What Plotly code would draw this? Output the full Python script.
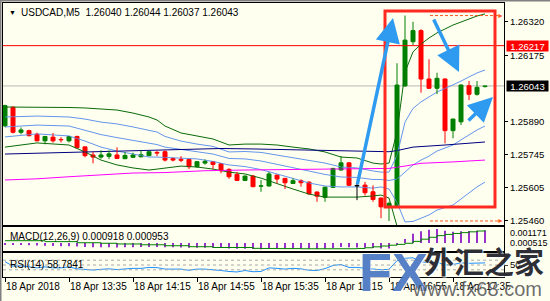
import plotly.graph_objects as go

# ---------------- data ----------------
tick_idx = [0, 8, 16, 24, 32, 40, 48, 56]
tick_text = ["18 Apr 2018", "18 Apr 13:35", "18 Apr 14:15", "18 Apr 14:55",
             "18 Apr 15:35", "18 Apr 16:15", "18 Apr 16:55", "18 Apr 17:35"]

opens = [1.25871, 1.25951, 1.25843, 1.25850, 1.25834, 1.25806, 1.25822, 1.25812, 1.25806, 1.25825,
         1.25780, 1.25745, 1.25736, 1.25739, 1.25745, 1.25729, 1.25735, 1.25737, 1.25742, 1.25756,
         1.25759, 1.25730, 1.25726, 1.25726, 1.25694, 1.25710, 1.25716, 1.25707, 1.25683, 1.25661,
         1.25635, 1.25654, 1.25610, 1.25611, 1.25658, 1.25644, 1.25622, 1.25634, 1.25628, 1.25585,
         1.25562, 1.25605, 1.25680, 1.25711, 1.25612, 1.25615, 1.25586, 1.25559, 1.25521, 1.25524,
         1.26043, 1.26234, 1.26282, 1.26073, 1.26033, 1.26073, 1.25850, 1.25888, 1.26044, 1.26007,
         1.26040]
highs = [1.25962, 1.25955, 1.25864, 1.25854, 1.25841, 1.25827, 1.25840, 1.25822, 1.25827, 1.25828,
         1.25782, 1.25759, 1.25765, 1.25765, 1.25778, 1.25758, 1.25755, 1.25765, 1.25761, 1.25763,
         1.25765, 1.25733, 1.25740, 1.25728, 1.25718, 1.25726, 1.25718, 1.25709, 1.25687, 1.25672,
         1.25656, 1.25658, 1.25637, 1.25672, 1.25660, 1.25646, 1.25644, 1.25640, 1.25630, 1.25587,
         1.25608, 1.25689, 1.25740, 1.25713, 1.25620, 1.25629, 1.25614, 1.25561, 1.25543, 1.26141,
         1.26347, 1.26320, 1.26288, 1.26158, 1.26100, 1.26076, 1.25902, 1.26050, 1.26064, 1.26064,
         1.26044]
lows = [1.25865, 1.25838, 1.25834, 1.25826, 1.25804, 1.25791, 1.25798, 1.25799, 1.25799, 1.25774,
        1.25735, 1.25709, 1.25729, 1.25727, 1.25728, 1.25727, 1.25733, 1.25735, 1.25740, 1.25740,
        1.25717, 1.25717, 1.25714, 1.25684, 1.25690, 1.25703, 1.25684, 1.25666, 1.25642, 1.25633,
        1.25633, 1.25606, 1.25586, 1.25609, 1.25622, 1.25598, 1.25620, 1.25608, 1.25575, 1.25543,
        1.25543, 1.25603, 1.25678, 1.25612, 1.25550, 1.25570, 1.25543, 1.25472, 1.25460, 1.25520,
        1.26040, 1.26220, 1.26014, 1.26030, 1.26008, 1.25795, 1.25817, 1.25874, 1.25982, 1.26001,
        1.26037]
closes = [1.25958, 1.25843, 1.25853, 1.25828, 1.25806, 1.25825, 1.25806, 1.25810, 1.25825, 1.25776,
          1.25742, 1.25736, 1.25745, 1.25750, 1.25730, 1.25743, 1.25745, 1.25746, 1.25759, 1.25753,
          1.25723, 1.25723, 1.25722, 1.25694, 1.25716, 1.25717, 1.25704, 1.25677, 1.25651, 1.25635,
          1.25654, 1.25608, 1.25612, 1.25663, 1.25641, 1.25625, 1.25634, 1.25625, 1.25577, 1.25567,
          1.25606, 1.25687, 1.25711, 1.25614, 1.25612, 1.25582, 1.25553, 1.25521, 1.25536, 1.26047,
          1.26241, 1.26282, 1.26073, 1.26033, 1.26076, 1.25850, 1.25900, 1.26047, 1.26007, 1.26037,
          1.26043]

bb_idx = [0, 4, 8, 10, 12, 14, 16, 18, 19, 20, 22, 24, 26, 28, 30, 32, 34, 36, 38, 40, 42, 44,
          46, 47, 48, 49, 50, 51, 52, 53, 54, 55, 56, 57, 58, 59, 60]
bb_upper2 = [1.25952, 1.25952, 1.25950, 1.25948, 1.25943, 1.25939, 1.25926, 1.25909, 1.25896, 1.25870,
             1.25840, 1.25827, 1.25814, 1.25788, 1.25792, 1.25792, 1.25788, 1.25779, 1.25771, 1.25758,
             1.25736, 1.25732, 1.25710, 1.25706, 1.25710, 1.25844, 1.26103, 1.26190, 1.26224, 1.26250,
             1.26272, 1.26289, 1.26306, 1.26319, 1.26332, 1.26345, 1.26354]
bb_lower2 = [1.25779, 1.25797, 1.25788, 1.25758, 1.25723, 1.25702, 1.25689, 1.25680, 1.25684, 1.25689,
             1.25697, 1.25693, 1.25684, 1.25671, 1.25663, 1.25645, 1.25620, 1.25598, 1.25576, 1.25563,
             1.25563, 1.25563, 1.25568, 1.25572, 1.25559, 1.25438, 1.25240, 1.25214, 1.25222, 1.25231,
             1.25253, 1.25270, 1.25270, 1.25300, 1.25330, 1.25360, 1.25386]
bb_upper1 = [1.25909, 1.25913, 1.25909, 1.25900, 1.25887, 1.25879, 1.25866, 1.25853, 1.25844, 1.25825,
             1.25805, 1.25792, 1.25782, 1.25758, 1.25760, 1.25756, 1.25745, 1.25734, 1.25723, 1.25710,
             1.25693, 1.25689, 1.25676, 1.25671, 1.25671, 1.25743, 1.25887, 1.25946, 1.25974, 1.25995,
             1.26017, 1.26032, 1.26047, 1.26064, 1.26082, 1.26099, 1.26112]
bb_mid = [1.25866, 1.25874, 1.25870, 1.25853, 1.25833, 1.25820, 1.25807, 1.25794, 1.25790, 1.25779,
          1.25769, 1.25760, 1.25749, 1.25730, 1.25728, 1.25719, 1.25704, 1.25689, 1.25674, 1.25661,
          1.25650, 1.25648, 1.25639, 1.25639, 1.25635, 1.25641, 1.25671, 1.25702, 1.25723, 1.25740,
          1.25762, 1.25775, 1.25788, 1.25810, 1.25831, 1.25853, 1.25870]
bb_lower1 = [1.25823, 1.25836, 1.25827, 1.25805, 1.25779, 1.25762, 1.25749, 1.25736, 1.25736, 1.25734,
             1.25732, 1.25728, 1.25717, 1.25702, 1.25695, 1.25682, 1.25663, 1.25643, 1.25624, 1.25611,
             1.25607, 1.25607, 1.25602, 1.25607, 1.25598, 1.25540, 1.25456, 1.25458, 1.25473, 1.25486,
             1.25507, 1.25518, 1.25529, 1.25555, 1.25581, 1.25607, 1.25628]

ma_navy_idx = [0, 7, 15, 20, 27, 31, 37, 44, 48, 49, 51, 55, 60]
ma_navy = [1.25749, 1.25756, 1.25762, 1.25766, 1.25773, 1.25771, 1.25766, 1.25762, 1.25759, 1.25764,
           1.25779, 1.25788, 1.25801]
ma_mag_idx = [0, 4, 8, 12, 16, 20, 25, 30, 35, 40, 45, 48, 50, 52, 56, 60]
ma_mag = [1.25637, 1.25642, 1.25651, 1.25658, 1.25667, 1.25669, 1.25677, 1.25680, 1.25682, 1.25684,
          1.25686, 1.25687, 1.25697, 1.25709, 1.25715, 1.25723]

macd_main = [-0.00010, -0.00012, -0.00014, -0.00016, -0.00019, -0.00020, -0.00022, -0.00023, -0.00023, -0.00026,
             -0.00029, -0.00031, -0.00032, -0.00032, -0.00033, -0.00032, -0.00031, -0.00030, -0.00029, -0.00029,
             -0.00031, -0.00032, -0.00033, -0.00035, -0.00035, -0.00034, -0.00035, -0.00037, -0.00040, -0.00042,
             -0.00042, -0.00044, -0.00045, -0.00042, -0.00041, -0.00041, -0.00040, -0.00040, -0.00042, -0.00044,
             -0.00042, -0.00036, -0.00030, -0.00032, -0.00033, -0.00035, -0.00037, -0.00040, -0.00041, -0.00010,
             0.00030, 0.00068, 0.00086, 0.00097, 0.00102, 0.00090, 0.00082, 0.00086, 0.00088, 0.00090,
             0.000918]
macd_signal = [0.00017, 0.00017, 0.00017, 0.00017, 0.00017, 0.00010, 0.00010, 0.00010, 0.00010, 0.00002,
               0.00002, 0.00002, -0.00002, -0.00002, -0.00007, -0.00007, -0.00007, -0.00013, -0.00013, -0.00013,
               -0.00020, -0.00020, -0.00020, -0.00027, -0.00027, -0.00027, -0.00033, -0.00033, -0.00033, -0.00033,
               -0.00033, -0.00039, -0.00040, -0.00040, -0.00041, -0.00041, -0.00041, -0.00042, -0.00042, -0.00042,
               -0.00042, -0.00042, -0.00042, -0.00042, -0.00040, -0.00035, -0.00028, -0.00022, -0.00016, -0.00010,
               -0.00002, 0.00012, 0.00028, 0.00042, 0.00054, 0.00063, 0.00070, 0.00076, 0.00082, 0.00088,
               0.000953]
rsi = [64, 45, 47, 42, 38, 42, 38, 38, 42, 34, 30, 29, 32, 34, 31, 35, 36, 36, 40, 39,
       33, 33, 33, 28, 33, 33, 31, 27, 23, 21, 27, 22, 23, 38, 36, 33, 36, 34, 28, 27,
       35, 48, 52, 40, 40, 36, 33, 30, 32, 68, 78, 80, 63, 60, 62, 50, 52, 59, 57, 58.5,
       58.7841]
rsi_levels = [70, 50, 30]

price_ticks = [1.26320, 1.26175, 1.25890, 1.25745, 1.25605, 1.25460]
hline_price = 1.26217
bid_price = 1.26043
macd_labels = ["0.001171", "0.000515"]

# ---------------- geometry helpers ----------------
W, H = 550, 301
L, R, T, B = 3, 504, 3, 277


def PX(px):
    return (px - L) / (R - L)


def PY(py):
    return (B - py) / (B - T)


FONT = "Tahoma, 'Liberation Sans', Arial, sans-serif"
BG = "#FFFFF0"
GREEN = "#008000"
RED = "#FF0000"

n = len(closes)
idx = list(range(n))
colors = [GREEN if c > o else (RED if c < o else "#000000") for o, c in zip(opens, closes)]

fig = go.Figure()

# indicator lines on main chart
line_specs = [
    (bb_idx, bb_upper2, "#0A6A0A"), (bb_idx, bb_lower2, "#0A6A0A"),
    (bb_idx, bb_upper1, "#6495ED"), (bb_idx, bb_mid, "#6495ED"), (bb_idx, bb_lower1, "#6495ED"),
    (ma_navy_idx, ma_navy, "#000080"), (ma_mag_idx, ma_mag, "#FF00FF"),
]
for xs, ys, col in line_specs:
    fig.add_trace(go.Scatter(x=xs, y=ys, mode="lines", line=dict(color=col, width=1),
                             hoverinfo="skip", xaxis="x", yaxis="y"))

# horizontal price lines
fig.add_shape(type="line", xref="x domain", x0=0, x1=1, yref="y", y0=bid_price, y1=bid_price,
              line=dict(color="#B8B8B8", width=1), layer="below")
fig.add_shape(type="line", xref="x domain", x0=0, x1=1, yref="y", y0=hline_price, y1=hline_price,
              line=dict(color="#FF0000", width=1))

# candle wicks
for col in [GREEN, RED, "#000000"]:
    wx, wy = [], []
    for i in idx:
        if colors[i] != col:
            continue
        wx += [i, i, None]
        wy += [lows[i], highs[i], None]
        if abs(closes[i] - opens[i]) < 0.000005:
            wx += [i - 0.3, i + 0.3, None]
            wy += [opens[i], opens[i], None]
    fig.add_trace(go.Scatter(x=wx, y=wy, mode="lines", line=dict(color=col, width=1),
                             hoverinfo="skip", xaxis="x", yaxis="y"))

# candle bodies
fig.add_trace(go.Bar(
    x=idx, base=[min(o, c) for o, c in zip(opens, closes)],
    y=[abs(c - o) for o, c in zip(opens, closes)],
    width=0.5, marker=dict(color=colors, line=dict(color=colors, width=1)),
    hoverinfo="skip", xaxis="x", yaxis="y"))

# MACD
fig.add_trace(go.Bar(x=idx, y=macd_main, width=0.22, marker=dict(color="#9932CC", line=dict(width=0)),
                     hoverinfo="skip", xaxis="x2", yaxis="y2"))
fig.add_trace(go.Scatter(x=idx, y=macd_signal, mode="lines", line=dict(color="#008000", width=1, shape="hv"),
                         hoverinfo="skip", xaxis="x2", yaxis="y2"))

# RSI
fig.add_trace(go.Scatter(x=idx, y=rsi, mode="lines", line=dict(color="#1E90FF", width=1),
                         hoverinfo="skip", xaxis="x3", yaxis="y3"))
for lv in rsi_levels:
    fig.add_shape(type="line", xref="x3 domain", x0=0, x1=1, yref="y3", y0=lv, y1=lv,
                  line=dict(color="#A8A8A8", width=1, dash="3px,3px"))

xr = [-0.25, -0.25 + (R - L) / 8.0]
p_top = 1.26320 + (21.8 - T) / 23160
p_bot = 1.26320 - (225 - 21.8) / 23160

axis_common = dict(showline=True, mirror=True, linecolor="#000000", linewidth=1,
                   showgrid=False, zeroline=False, automargin=False)

fig.update_layout(
    width=W, height=H, autosize=False,
    margin=dict(l=L, r=W - R, t=T, b=H - B, pad=0),
    paper_bgcolor=BG, plot_bgcolor=BG, showlegend=False, barmode="overlay",
    font=dict(family=FONT, size=10, color="#000000"),
    xaxis=dict(domain=[0, 1], range=xr, anchor="y", showticklabels=False, ticks="", **axis_common),
    xaxis2=dict(domain=[0, 1], range=xr, anchor="y2", matches="x", showticklabels=False, ticks="", **axis_common),
    xaxis3=dict(domain=[0, 1], range=xr, anchor="y3", matches="x", tickvals=tick_idx, ticktext=tick_text,
                ticks="outside", ticklen=4, tickcolor="#000000", ticklabelposition="outside right",
                tickangle=0, tickfont=dict(size=10, family=FONT), **axis_common),
    yaxis=dict(domain=[PY(225), 1], range=[p_bot, p_top], side="right", tickvals=price_ticks,
               ticktext=["%.5f" % v for v in price_ticks], ticks="outside", ticklen=3, tickcolor="#000000",
               tickangle=0, tickfont=dict(size=9.5, family=FONT), **axis_common),
    yaxis2=dict(domain=[PY(251), PY(227)], range=[-0.000586, 0.001173], side="right",
                showticklabels=False, ticks="", **axis_common),
    yaxis3=dict(domain=[0, PY(253)], range=[0, 100], side="right", tickvals=[50], ticktext=["50"],
                ticks="outside", ticklen=3, tickangle=0, tickfont=dict(size=9.5, family=FONT), **axis_common),
)

ann = []
# title and indicator labels
ann.append(dict(x=PX(12), y=PY(13), xref="paper", yref="paper", text="▼", showarrow=False,
                font=dict(size=7, color="#000000"), xanchor="center", yanchor="middle"))
ann.append(dict(x=PX(19), y=PY(13), xref="paper", yref="paper",
                text="USDCAD,M5\u00a0 %.5f %.5f %.5f %.5f" % (opens[-1], highs[-1], lows[-1], closes[-1]),
                showarrow=False, font=dict(size=10, color="#000000"), xanchor="left", yanchor="middle"))
ann.append(dict(x=PX(8), y=PY(236), xref="paper", yref="paper",
                text="MACD(12,26,9) %.6f %.6f" % (macd_main[-1], macd_signal[-1]),
                showarrow=False, font=dict(size=10), xanchor="left", yanchor="middle"))
ann.append(dict(x=PX(8), y=PY(264), xref="paper", yref="paper",
                text="RSI(14) %.4f" % rsi[-1], showarrow=False, font=dict(size=10),
                xanchor="left", yanchor="middle"))
# MACD scale labels
ann.append(dict(x=PX(508), y=PY(233), xref="paper", yref="paper", text=macd_labels[0], showarrow=False,
                font=dict(size=9), xanchor="left", yanchor="middle"))
ann.append(dict(x=PX(508), y=PY(243), xref="paper", yref="paper", text=macd_labels[1], showarrow=False,
                font=dict(size=9), xanchor="left", yanchor="middle"))
# price boxes
ann.append(dict(x=PX(506), y=hline_price, xref="paper", yref="y", text="%.5f" % hline_price, showarrow=False,
                font=dict(size=9.5, color="#FFFFFF"), bgcolor="#FF0000", xanchor="left", yanchor="middle",
                width=41, height=10, borderpad=0))
ann.append(dict(x=PX(506), y=bid_price, xref="paper", yref="y", text="%.5f" % bid_price, showarrow=False,
                font=dict(size=9.5, color="#FFFFFF"), bgcolor="#000000", xanchor="left", yanchor="middle",
                width=41, height=10, borderpad=0))

# high / low dashed markers
hi, lo = max(highs), min(lows)
for lvl in [hi, lo]:
    fig.add_shape(type="line", xref="paper", x0=PX(430), x1=PX(498), yref="y", y0=lvl, y1=lvl,
                  line=dict(color="#FF5A1E", width=1, dash="3px,2px"))
    ann.append(dict(x=PX(500), y=lvl, xref="paper", yref="y", text="►", showarrow=False,
                    font=dict(size=7, color="#FF5A1E"), xanchor="center", yanchor="middle"))

# red box drawn on the chart
fig.add_shape(type="rect", xref="paper", yref="paper", x0=PX(385), x1=PX(495), y0=PY(207), y1=PY(11),
              line=dict(color="#FF2A1F", width=3))

# blue arrows
arrow_col = "#2F9BF0"
for (hx, hy, tx, ty) in [(393, 18, 357, 186), (459, 72, 433, 18), (493, 97, 467, 122)]:
    ann.append(dict(x=PX(hx), y=PY(hy), xref="paper", yref="paper", ax=tx - hx, ay=ty - hy,
                    text="", showarrow=True, arrowhead=2, arrowsize=1.4, arrowwidth=3.5,
                    arrowcolor=arrow_col))

# watermark
ann.append(dict(x=PX(393), y=PY(272), xref="paper", yref="paper", text="<b>FX</b>", showarrow=False,
                font=dict(size=54, color="rgba(64,112,190,0.88)", family="'Liberation Sans', Arial",
                          shadow="1px 1px 1px #FFFFFF"),
                xanchor="center", yanchor="middle"))
ann.append(dict(x=PX(484), y=PY(260), xref="paper", yref="paper", text="<b>外汇之家</b>", showarrow=False,
                font=dict(size=30, color="rgba(25,25,35,0.92)", family="'Noto Sans CJK SC'",
                          shadow="1px 1px 1px #FFFFFF"),
                xanchor="center", yanchor="middle"))
ann.append(dict(x=PX(477), y=PY(289), xref="paper", yref="paper", text="www.fx68.com", showarrow=False,
                font=dict(size=20, color="rgba(70,70,70,0.80)", family="'Liberation Sans', Arial",
                          shadow="1px 1px 0px #FFFFFF"),
                xanchor="center", yanchor="middle"))

fig.update_layout(annotations=ann)

# window frame (left/top)
fig.add_shape(type="line", xref="paper", yref="paper", x0=PX(0.5), x1=PX(0.5), y0=PY(0), y1=PY(301),
              line=dict(color="#808080", width=2))
fig.add_shape(type="line", xref="paper", yref="paper", x0=PX(0), x1=PX(550), y0=PY(0.5), y1=PY(0.5),
              line=dict(color="#808080", width=2))

fig.write_html("out.html")
